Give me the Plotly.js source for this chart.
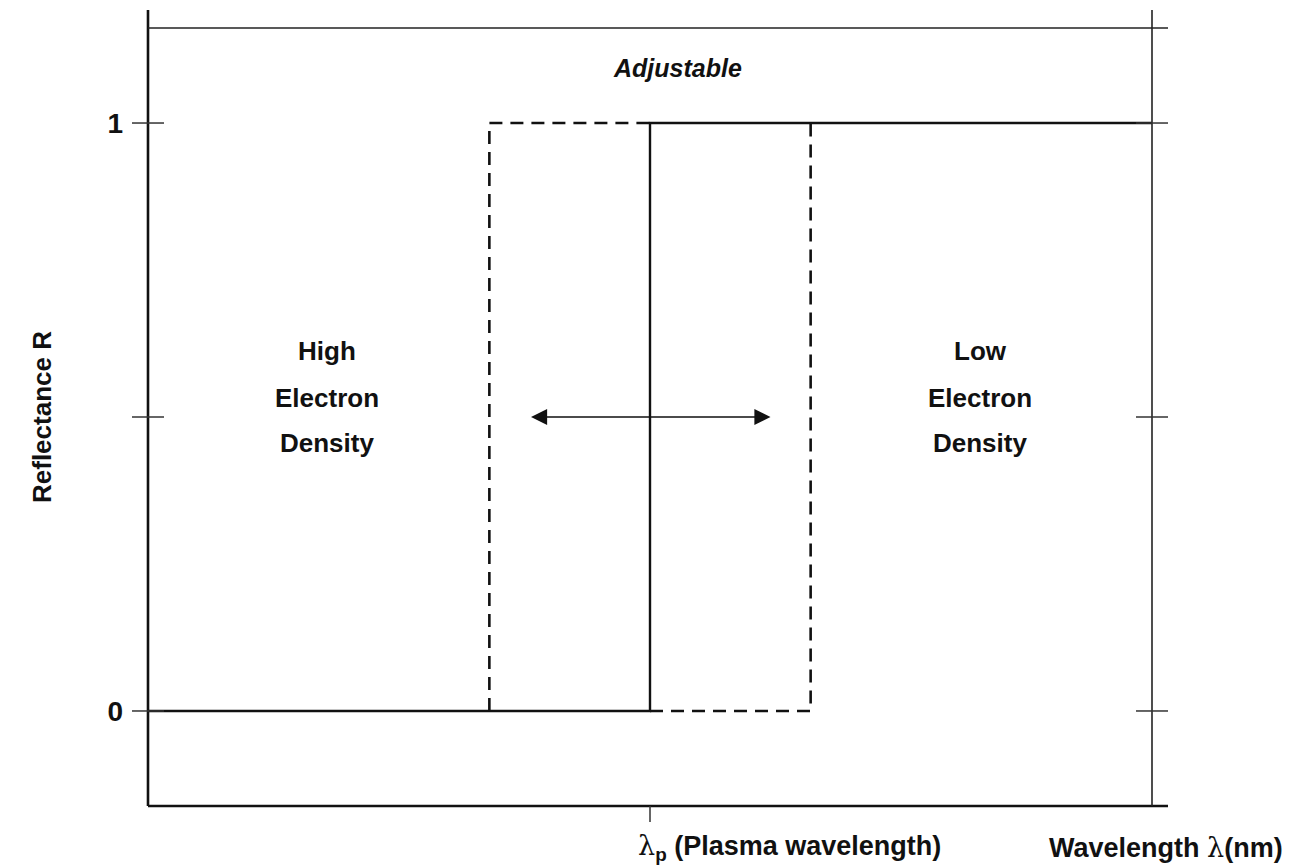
<!DOCTYPE html>
<html>
<head>
<meta charset="utf-8">
<script src="https://cdn.plot.ly/plotly-3.0.1.min.js"></script>
<style>html,body{margin:0;padding:0;background:#fff;}#chart{width:1305px;height:867px;}</style>
</head>
<body>
<div id="chart"></div>
<script>
// Solid reflectance step at the plasma wavelength
const stepX = [0, 5, 5, 10];
const stepR = [0, 0, 1, 1];
// Dashed (adjustable) edges
const dashLeftX = [3.4, 3.4, 5];
const dashLeftR = [0, 1, 1];
const dashRightX = [5, 6.6, 6.6];
const dashRightR = [0, 0, 1];
// Double arrow
const arrowX = [3.8, 6.2];
const arrowR = 0.5;
// Axis ticks
const yTickVals = [0, 0.5, 1];
const yLabelVals = [0, 1];
const yLabelText = ['0', '1'];
const xTickVals = [5];
const xRange = [0, 10];
const yRange = [-0.1616, 1.1616];

const FONT = 'Liberation Sans, Arial, sans-serif';
const BLACK = '#111';

const traces = [
  {x: stepX, y: stepR, mode: 'lines', line: {color: BLACK, width: 2.4}, hoverinfo: 'skip'},
  {x: dashLeftX, y: dashLeftR, mode: 'lines', line: {color: BLACK, width: 2.6, dash: '13px,8px'}, hoverinfo: 'skip'},
  {x: dashRightX, y: dashRightR, mode: 'lines', line: {color: BLACK, width: 2.6, dash: '13px,8px'}, hoverinfo: 'skip'}
];

const W = 1004, H = 778;
const shapes = [
  // frame lines
  {type: 'line', xref: 'paper', yref: 'paper', x0: 0, x1: 0, y0: 0, y1: 1 + 18 / H, line: {color: BLACK, width: 2.6}},
  {type: 'line', xref: 'paper', yref: 'paper', x0: 0, x1: 1 + 16 / W, y0: 0, y1: 0, line: {color: BLACK, width: 2.6}},
  {type: 'line', xref: 'paper', yref: 'paper', x0: 1, x1: 1, y0: 0, y1: 1 + 18 / H, line: {color: '#222', width: 1.6}},
  {type: 'line', xref: 'paper', yref: 'paper', x0: 0, x1: 1 + 16 / W, y0: 1, y1: 1, line: {color: '#222', width: 1.6}}
];
yTickVals.forEach(v => {
  [0, 1].forEach(side => {
    shapes.push({type: 'line', xref: 'paper', yref: 'y', xsizemode: 'pixel', xanchor: side,
      x0: -16, x1: 16, y0: v, y1: v, line: {color: '#333', width: 1.5}});
  });
});
xTickVals.forEach(v => {
  shapes.push({type: 'line', xref: 'x', yref: 'paper', ysizemode: 'pixel', yanchor: 0,
    x0: v, x1: v, y0: 0, y1: -16, line: {color: '#333', width: 1.5}});
});

const big = {family: FONT, size: 26, color: BLACK, weight: 'bold'};
const axLbl = {family: FONT, size: 27, color: BLACK, weight: 'bold'};
const annotations = [
  {x: 5.27, y: 1.0935, xref: 'x', yref: 'y', text: 'Adjustable', showarrow: false,
   font: {family: FONT, size: 25, color: BLACK, weight: 'bold', style: 'italic'}},
  {x: 1.78, y: 0.612, text: 'High', showarrow: false, font: big},
  {x: 1.78, y: 0.533, text: 'Electron', showarrow: false, font: big},
  {x: 1.78, y: 0.455, text: 'Density', showarrow: false, font: big},
  {x: 8.29, y: 0.612, text: 'Low', showarrow: false, font: big},
  {x: 8.29, y: 0.533, text: 'Electron', showarrow: false, font: big},
  {x: 8.29, y: 0.455, text: 'Density', showarrow: false, font: big},
  // double arrow
  {x: arrowX[1], y: arrowR, ax: arrowX[0], ay: arrowR, xref: 'x', yref: 'y', axref: 'x', ayref: 'y',
   text: '', showarrow: true, arrowhead: 2, startarrowhead: 2, arrowside: 'end+start',
   arrowsize: 2.3, startarrowsize: 2.3, arrowwidth: 1.4, arrowcolor: BLACK},
  // x labels
  {x: xTickVals[0], y: -(41 / H), xref: 'x', yref: 'paper', xanchor: 'left', xshift: -14, yanchor: 'middle', showarrow: false,
   text: '<span style="font-family:DejaVu Serif;font-weight:normal">λ</span><sub>p</sub> (Plasma wavelength)', font: axLbl},
  {x: 1.014, y: -(41 / H), xref: 'paper', yref: 'paper', xanchor: 'center', yanchor: 'middle', showarrow: false,
   text: 'Wavelength <span style="font-family:DejaVu Serif;font-weight:normal">λ</span>(nm)', font: axLbl},
  // y title
  {x: -123 / W, y: 0.5, xref: 'paper', yref: 'paper', textangle: -90, showarrow: false,
   text: 'Reflectance R', font: big}
];

const layout = {
  width: 1305, height: 867,
  margin: {l: 148, r: 153, t: 28, b: 61},
  paper_bgcolor: '#fff', plot_bgcolor: '#fff',
  showlegend: false,
  xaxis: {range: xRange, showgrid: false, zeroline: false, showline: false,
    showticklabels: false, ticks: '', fixedrange: true},
  yaxis: {range: yRange, showgrid: false, zeroline: false, showline: false,
    tickvals: yLabelVals, ticktext: yLabelText, ticks: '', ticklabelstandoff: 24,
    tickfont: {family: FONT, size: 28, color: BLACK, weight: 'bold'}, fixedrange: true},
  shapes: shapes,
  annotations: annotations
};

Plotly.newPlot('chart', traces, layout, {displayModeBar: false, staticPlot: true});
</script>
</body>
</html>
